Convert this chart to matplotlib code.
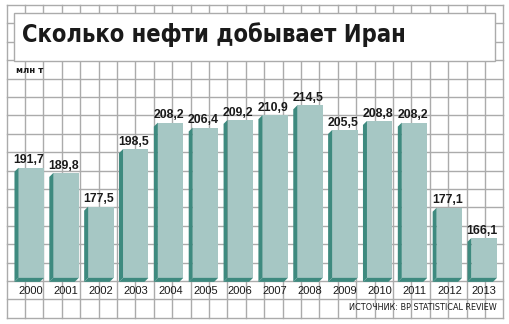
import matplotlib
matplotlib.use('Agg')
import matplotlib.pyplot as plt
from matplotlib.patches import Rectangle, Polygon

plt.rcParams['font.family'] = ['Liberation Sans', 'DejaVu Sans']

years = ['2000', '2001', '2002', '2003', '2004', '2005', '2006',
         '2007', '2008', '2009', '2010', '2011', '2012', '2013']
output = [191.7, 189.8, 177.5, 198.5, 208.2, 206.4, 209.2,
          210.9, 214.5, 205.5, 208.8, 208.2, 177.1, 166.1]

FACE = '#a6c7c4'
SIDE = '#3e8a7f'
GRID = '#ababab'
TEXT = '#1a1a1a'

fig = plt.figure(figsize=(5.1, 3.24), dpi=100)

# squared paper background, pixel coordinates
bg = fig.add_axes([0, 0, 1, 1])
bg.set_xlim(0, 510)
bg.set_ylim(324, 0)
bg.axis('off')
step = 18.4
for k in range(28):
    gx = 6.7 + k * step
    bg.plot([gx, gx], [5, 318], color=GRID, lw=1, zorder=1)
for k in range(18):
    gy = 5 + k * step
    bg.plot([6.7, 503.5], [gy, gy], color=GRID, lw=1, zorder=1)

bg.add_patch(Rectangle((14, 13), 481, 47.7, fc='white', ec=GRID, lw=1, zorder=2))
bg.text(22, 41.7, 'Сколько нефти добывает Иран', fontsize=17, fontweight='heavy',
        fontstretch='condensed', family='DejaVu Sans',
        color=TEXT, va='baseline', zorder=3)
bg.text(16, 73, 'млн т', fontsize=6.8, fontweight='bold', color=TEXT, va='baseline',
        family='DejaVu Sans', fontstretch='condensed')
bg.text(497, 308, 'ИСТОЧНИК: BP STATISTICAL REVIEW', fontsize=6.5, color=TEXT,
        ha='right', va='center', family='DejaVu Sans', fontstretch='condensed')

# bars with a fake 3d extrusion to the lower left
ax = fig.add_axes([0, 0, 1, 1])
ax.patch.set_alpha(0)
ax.axis('off')
ax.set_xlim(-0.895, 13.739)
ax.set_ylim(134.6, 253.0)

base = 150
dx, dy = 0.115, 1.46
w = 0.73
floor = base + dy
xs = list(range(len(years)))
ax.bar(xs, [v - floor for v in output], bottom=floor, width=w,
       color=FACE, zorder=3)

for i, v in enumerate(output):
    x0, x1 = i - w / 2, i + w / 2
    ax.add_patch(Polygon([(x0, v), (x0 - dx, v - dy), (x0 - dx, base), (x0, floor)],
                         closed=True, color=SIDE, lw=0, zorder=3))
    ax.add_patch(Polygon([(x0, floor), (x0 - dx, base), (x1 - dx, base), (x1, floor)],
                         closed=True, color=SIDE, lw=0, zorder=3))
    ax.text(i - 0.06, v + 1.57, f'{v:.1f}'.replace('.', ','), ha='center',
            va='baseline', fontsize=8.8, fontweight='bold', color=TEXT)
    ax.text(i, 146.6, years[i], ha='center', va='center', fontsize=8, color=TEXT)

fig.savefig('out.png', dpi=100)
